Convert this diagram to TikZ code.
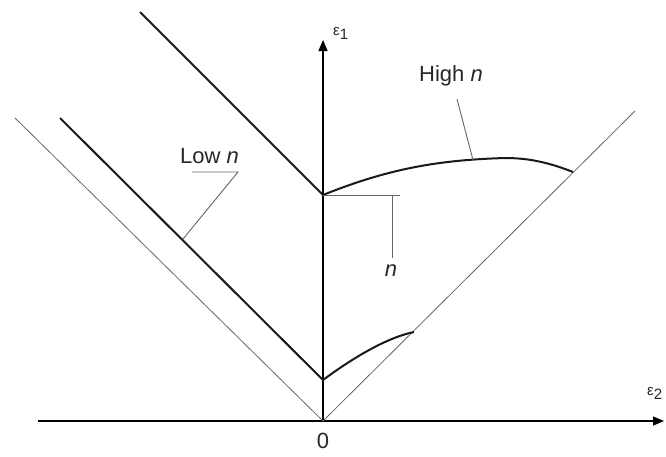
\documentclass[tikz,border=0pt]{standalone}
\usepackage{fontspec}
\setmainfont{Liberation Sans}
\usetikzlibrary{arrows.meta}
\begin{document}
\begin{tikzpicture}[x=1pt,y=-1pt,
  axis/.style={line width=1.3pt,-{Triangle[length=11pt,width=9pt]}},
  thinline/.style={line width=0.8pt,black!60},
  thickline/.style={line width=2pt,black!90,line join=miter},
  leader/.style={line width=0.9pt,black!60},
  lbl/.style={font=\fontsize{22}{22}\selectfont,inner sep=0pt,text=black!85},
  axlbl/.style={font=\fontsize{15}{15}\selectfont,inner sep=0pt,text=black!85}]
\useasboundingbox (0,0) rectangle (666,456);
% coordinates
\coordinate (O) at (323,421);
\coordinate (xs) at (38,421);
\coordinate (xe) at (664,421);
\coordinate (ye) at (323,40);
\coordinate (tl) at (15,118);
\coordinate (tr) at (635,111);
\coordinate (A) at (140,12);
\coordinate (B) at (323,195);
\coordinate (C) at (573,172);
\coordinate (D) at (60,118);
\coordinate (E) at (323,380);
\coordinate (F) at (414,332);
% axes
\draw[axis] (xs) -- (xe);
\draw[axis] (O) -- (ye);
\node[axlbl,anchor=west] (e1) at (333,33) {ε\raisebox{-4pt}{1}};
\node[axlbl,anchor=west] (e2) at (647,393) {ε\raisebox{-4pt}{2}};
\node[lbl] (zero) at (323,441) {0};
% thin boundary lines
\draw[thinline] (tl) -- (O) -- (tr);
% thick curves
\draw[thickline] (A) -- (B) .. controls (390,168) and (440,160) .. (505,158)
   .. controls (530,158) and (550,163) .. (C);
\draw[thickline] (D) -- (E) .. controls (350,360) and (385,338) .. (F);
% labels
\node[lbl,anchor=west] (low) at (180,156) {Low \textit{n}};
\coordinate (l1) at (192,172);
\coordinate (l2) at (238,172);
\coordinate (l3) at (183,239);
\draw[leader] (l1) -- (l2) -- (l3);
\node[lbl,anchor=west] (high) at (419,76) {High \textit{n}};
\coordinate (h1) at (457,99);
\coordinate (h2) at (473,160);
\draw[leader] (h1) -- (h2);
\node[lbl] (nn) at (391,271) {\textit{n}};
\coordinate (n1) at (400,195);
\coordinate (n2) at (392,195);
\coordinate (n3) at (392,258);
\draw[leader] (B) -- (n1);
\draw[leader] (n2) -- (n3);
\end{tikzpicture}
\end{document}
